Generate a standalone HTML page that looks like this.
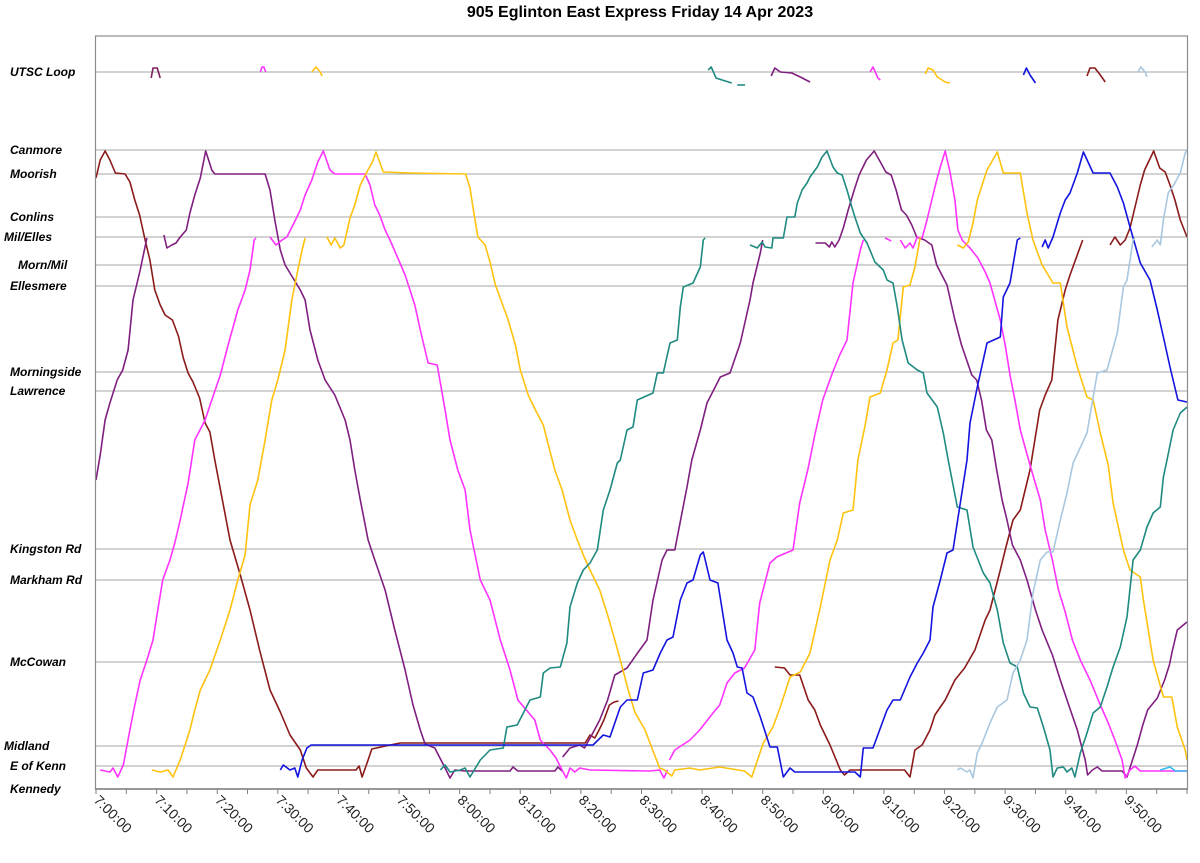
<!DOCTYPE html>
<html><head><meta charset="utf-8"><style>
html,body{margin:0;padding:0;background:#fff;}
svg{display:block;font-family:"Liberation Sans",Arial,sans-serif;}
</style></head><body>
<svg id="chart" width="1200" height="863" viewBox="0 0 1200 863" xmlns="http://www.w3.org/2000/svg">
<text x="640" y="17" text-anchor="middle" font-size="16" font-weight="bold">905 Eglinton East Express Friday 14 Apr 2023</text>
<g id="grid"></g>
<g id="ylabels" font-size="12" font-weight="bold" font-style="italic"></g>
<g id="series"></g>
<g id="frame"></g>
<g id="xaxis" font-size="14"></g>
</svg>
<script>
const stopNames = ["UTSC Loop","Canmore","Moorish","Conlins","Mil/Elles","Morn/Mil","Ellesmere","Morningside","Lawrence","Kingston Rd","Markham Rd","McCowan","Midland","E of Kenn","Kennedy"];
const stopPos = [717,639,615,572,552,524,503,417,398,240,209,127,43,23,0];
const stopIndent = [0,0,0,0,-6,8,0,0,0,0,0,0,-6,0,0];
const tickMinutes = [0,10,20,30,40,50,60,70,80,90,100,110,120,130,140,150,160,170];
const tickLabels = ["7:00:00","7:10:00","7:20:00","7:30:00","7:40:00","7:50:00","8:00:00","8:10:00","8:20:00","8:30:00","8:40:00","8:50:00","9:00:00","9:10:00","9:20:00","9:30:00","9:40:00","9:50:00"];

const maroon1 = [[0,611],[0.7,629],[1.5,638],[2.3,629],[3.2,616],[4.8,615],[5.6,607],[6.4,589],[7.2,574],[8.1,549],[8.9,529],[9.7,499],[10.6,484],[11.4,474],[12.6,469],[13.6,453],[14.4,431],[15.2,416],[16,407],[17.1,391],[18,366],[18.8,357],[19.6,329],[22.1,249],[23.8,214],[25.4,179],[27,139],[28.7,99],[30.4,77],[32,54],[33.7,39],[34.7,21],[35.8,12],[36.6,19],[40.3,19],[42.9,19],[43.4,23],[43.9,12],[44.9,29],[45.5,40],[48.5,44],[50.2,46],[80.7,46],[81.5,54],[82.3,51],[83,59],[83.8,69],[84.7,84],[85.5,87],[86.2,88]];
const maroon2 = [[112,122],[113.6,121],[114.5,114],[116.1,114],[117.5,89],[118.6,79],[119.5,64],[121.1,44],[122.8,19],[123.5,14],[124.4,19],[133.4,19],[134.3,12],[135.1,39],[136.3,44],[137.6,59],[138.4,74],[140.1,89],[141.7,109],[143.3,121],[145,139],[146.7,169],[147.5,179],[149.2,219],[150,239],[151.3,269],[152.5,279],[154.1,319],[155.7,379],[156.6,394],[157.7,409],[158.7,469],[159.9,499],[160.7,514],[162.8,549]];
const maroon3 = [[167.3,544],[168.1,552],[169,544],[169.8,549],[170.6,561],[171.5,584],[172.3,604],[173,619],[174.5,638],[175.5,621],[176.4,617],[177.2,604],[178,589],[178.9,569],[180,552]];
const maroonLoop = [[163.5,713],[164,721],[164.8,721],[165.7,714],[166.5,707]];
const purple1 = [[0,309],[0.7,334],[1.5,369],[2.3,386],[3.5,409],[4.4,419],[5.3,439],[6.1,489],[7.3,519],[8.4,551]];
const purple2 = [[11.2,554],[11.7,541],[12.5,544],[13.2,546],[13.9,552],[14.9,559],[15.5,576],[16.3,594],[17.2,611],[18.1,638],[19.1,619],[19.6,615],[27.9,615],[28.7,599],[29.5,569],[30.4,539],[31.2,524],[32.5,511],[33.7,499],[34.5,489],[35.3,459],[36.6,429],[37.8,409],[39.4,394],[41.1,369],[41.9,349],[42.7,319],[43.6,289],[44.9,249],[46,229],[47.7,199],[49.3,159],[51,119],[52.3,84],[53.5,59],[54.3,45],[55.9,41],[57.6,21],[58.4,11],[59.2,19],[60.9,18],[68.3,18],[68.8,22],[69.6,18],[75.7,18],[76.2,22],[76.9,18]];
const purple3 = [[77,32],[78.2,41],[79.8,44],[80.6,41],[81.8,54],[83.1,69],[84.4,89],[85.6,114],[87.6,121],[89.7,139],[90.9,149],[91.9,189],[93.4,229],[94.2,239],[95.5,239],[97.5,302],[98.3,329],[99.7,359],[100.8,386],[103,412],[104.6,416],[106.3,446],[107.9,489],[108.4,506],[109.6,536],[110,549]];
const purple4 = [[118.7,546],[120.3,546],[121,542],[121.4,547],[121.9,542],[122.6,549],[123.3,561],[124.1,579],[125.1,599],[125.9,614],[127.1,629],[128.4,638],[129.5,626],[130.3,617],[131.2,614],[132,599],[132.9,579],[133.7,574],[134.6,564],[135.4,552],[136.7,549],[137.9,544],[138.7,524],[140.4,504],[141.7,469],[142.8,444],[144.5,414],[145.3,409],[146.1,389],[146.9,359],[147.8,349],[148.6,319],[149.5,289],[150.3,269],[151.2,244],[152.5,229],[153.6,209],[155,179],[156.1,159],[157.8,134],[159.1,109],[160.2,89],[161.9,59],[163.2,29],[163.6,14],[164.4,19],[165.2,22],[166,18],[169.3,18],[170.1,12],[171,29],[171.8,44],[172.7,64],[173.5,79],[175.1,91],[176.3,109],[177.1,124],[177.6,139],[178.4,159],[180,167]];
const purpleLoop1 = [[9.1,711],[9.4,721],[10.1,721],[10.6,711]];
const purpleLoop2 = [[111.4,713],[112,721],[112.9,717],[114.8,716],[116.2,712],[117.8,707]];
const magenta1 = [[0.7,19],[2.3,17],[2.8,21],[3.6,12],[4.5,24],[5.6,59],[6.4,84],[7.3,109],[8.4,129],[9.4,149],[10.2,179],[11,209],[12.2,229],[13,246],[13.9,269],[15.2,306],[16.3,349],[18,369],[19.1,389],[20.5,414],[21.8,444],[23.4,479],[24.6,499],[25.4,519],[26.1,549],[26.4,551]];
const magenta2 = [[28.7,552],[29.7,544],[30.7,549],[31.5,552],[32.5,564],[33.7,579],[34.5,594],[35.6,609],[36.6,627],[37.5,638],[38.6,619],[39.4,615],[44.4,615],[45.2,604],[46,584],[46.8,574],[47.7,559],[48.5,549],[49.8,531],[51,514],[51.8,499],[52.6,484],[53.5,459],[54.8,426],[56.3,424],[57.6,379],[58.4,349],[59.7,319],[60.9,299],[61.7,259],[63.4,209],[65,189],[66.7,149],[68.3,119],[69.6,89],[72.4,69],[73.3,49],[74.9,39],[75.9,31],[76.9,19],[77.6,11],[78.2,21],[79,17],[79.8,21],[81.5,19],[91.4,18],[93,19],[93.7,11],[94.3,19]];
const magenta3 = [[94.6,29],[95.5,39],[98,49],[99.6,59],[101.8,76],[102.9,84],[104.1,106],[105.4,116],[107,121],[108.7,139],[109.5,186],[111.2,226],[112.3,232],[115,239],[116.1,286],[117.5,321],[118.6,354],[119.9,389],[121.5,416],[122.7,434],[123.9,449],[124.9,506],[126.1,539],[126.6,549]];
const magenta4 = [[130.2,551],[131.2,548]];
const magenta5 = [[132.7,549],[133.5,541],[134.3,546],[134.8,541],[135.5,552],[136.3,551],[137.1,569],[137.9,589],[138.7,609],[139.4,624],[140.1,638],[140.9,617],[141.7,589],[142.2,559],[142.9,549],[144.2,541],[145.5,531],[146.7,517],[147.5,506],[149.2,469],[150,444],[150.8,414],[151.6,389],[152.5,359],[154.1,324],[155.8,289],[156.6,259],[157.8,229],[158.8,199],[159.9,177],[161.1,149],[162.4,129],[164,109],[165.7,84],[166.8,69],[168.1,49],[169.3,29],[169.8,11],[170.6,19],[171.4,23],[172.3,18],[180,18]];
const magentaLoop1 = [[27.1,717],[27.4,722],[27.7,722],[28,717]];
const magentaLoop2 = [[127.7,717],[128.2,722],[129,711],[129.4,709]];
const gold1 = [[9.2,19],[10.6,17],[11.9,19],[12.7,12],[13.9,29],[14.7,44],[15.5,59],[16.3,79],[17.2,99],[18.8,119],[20.5,149],[22.1,179],[23.4,209],[24.6,234],[25.4,284],[26.7,309],[27.9,349],[29,389],[30,409],[31.2,439],[32.3,489],[33.3,519],[34,539],[34.5,551]];
const gold2 = [[38.1,552],[38.8,544],[39.4,551],[40.3,541],[40.9,544],[41.9,571],[42.7,584],[43.6,604],[44.7,617],[45.6,627],[46.2,637],[47.4,617],[51.8,616],[61,615],[61.7,601],[62.4,574],[63,552],[64.2,544],[65,527],[65.9,504],[68,469],[69.2,444],[70,419],[71.3,394],[72.5,379],[73.8,364],[75.7,319],[76.9,299],[78.2,269],[79.4,249],[80.4,234],[81.5,219],[83.1,199],[84.4,174],[85.6,149],[86.5,129],[87.8,99],[88.9,77],[90.6,59],[91.7,41],[93,21],[93.8,19],[95,13],[95.5,19],[98,21],[99.6,19],[102.9,22],[107,18],[108.2,12],[110.1,46],[111.7,62],[112.9,82],[114.5,112],[116.2,117],[117.8,136],[119.5,182],[121.1,229],[122.3,249],[123.3,276],[124.9,279],[125.7,329],[126.9,364],[127.7,392],[129.4,396],[130.5,419],[131.5,446],[132.3,449],[133.2,502],[134.3,504],[135.1,522],[136,552]];
const gold3 = [[142.1,544],[143.1,541],[143.9,547],[144.7,566],[145.4,589],[147,619],[148.7,637],[149.7,616],[152.5,616],[153.6,576],[154.6,549],[156.1,524],[157.9,506],[159.1,506],[160.2,462],[161.9,422],[163.5,392],[164.5,389],[165.7,356],[167,324],[167.8,286],[169.5,239],[170.6,219],[172.3,212],[172.8,189],[174.4,129],[176.1,92],[177.5,92],[178.4,62],[179.7,39],[180,29]];
const goldLoop1 = [[35.6,717],[36.3,722],[37,717],[37.3,713]];
const goldLoop2 = [[136.8,715],[137.3,721],[138.1,719],[138.8,712],[140.1,707],[140.9,706]];
const teal1 = [[56.8,19],[57.6,24],[58.4,17],[60.1,19],[60.9,21],[61.7,12],[63.4,29],[65,39],[67.2,41],[67.8,62],[69.5,64],[71.6,89],[73.3,92],[73.8,116],[74.9,121],[76.6,122],[77.7,146],[78.2,182],[79.4,206],[80.4,219],[81.5,226],[82.7,239],[83.7,279],[84.8,299],[86,326],[86.5,329],[87.6,359],[88.6,362],[89.3,389],[91.9,396],[92.6,416],[93.6,416],[94.7,446],[95.9,449],[96.4,482],[96.9,502],[98.5,506],[99.7,522],[100.2,549],[100.5,551]];
const teal2 = [[107.9,544],[109.1,541],[109.9,547],[110.4,542],[111.5,541],[111.7,551],[113.4,551],[114,572],[115.3,572],[115.7,586],[116.5,599],[117.3,606],[117.8,612],[119,622],[119.8,632],[120.6,638],[121.6,622],[122.3,616],[123.1,614],[123.9,599],[124.7,582],[125.2,572],[126.1,556],[127.2,546],[128.5,527],[129.9,519],[130.5,509],[131.5,506],[132.2,482],[133,449],[134,426],[135.5,419],[136.5,416],[137.1,396],[138.8,382],[139.8,356],[140.6,329],[142.1,282],[143.7,279],[144.7,242],[146.4,216],[147.5,206],[148.7,179],[149.7,146],[150.8,126],[152,122],[153,96],[154.1,82],[155.3,81],[156.3,62],[157.4,39],[157.9,12],[158.6,21],[159.6,22],[160.2,17],[161,21],[161.5,12],[162.4,36],[163.5,56],[164.5,76],[165.7,82],[166.8,102],[167.8,122],[169,142],[170.1,172],[171.1,229],[172.3,239],[173.4,262],[174.4,276],[175.6,282],[176.1,312],[176.7,329],[177.7,359],[178.9,376],[180,382]];
const tealLoop1 = [[101,719],[101.5,722],[102.3,711],[103.3,709],[104.9,706]];
const tealLoop2 = [[105.8,704],[107.1,704]];
const blue1 = [[30.4,19],[30.9,24],[32,19],[32.8,21],[33.3,12],[34,29],[34.8,41],[35.5,44],[82,44],[83.7,54],[84.8,52],[86.5,82],[87.6,89],[89.3,89],[90.3,116],[91.9,119],[93.1,136],[94.2,149],[95.2,152],[96.4,189],[97.5,206],[98.5,209],[99.7,234],[100.2,237],[101.3,209],[102.6,206],[104.1,149],[105.1,136],[105.8,122],[106.6,121],[107.4,96],[108.4,92],[109.6,72],[111.2,42],[112.4,42],[113.4,12],[114.5,21],[115.3,17],[125.2,17],[126.1,12],[126.6,41],[128.2,41],[130.5,79],[131.5,89],[132.7,89],[134.3,112],[135.5,126],[136.5,136],[137.6,149],[138.1,182],[139.3,209],[140.4,236],[141.4,239],[142.6,286],[143.7,329],[144.2,366],[145.4,402],[147,446],[149.2,452],[149.7,492],[150.8,506],[152,549],[152.5,551]];
const blue2 = [[156.1,542],[156.6,549],[157.1,541],[157.9,552],[159.1,576],[159.9,589],[160.7,596],[161.9,616],[162.9,637],[164.5,616],[167.3,616],[168.5,602],[169.5,586],[170.6,562],[172.3,526],[173.9,509],[175.1,479],[176.1,452],[177.2,422],[178.5,389],[180,387]];
const blueLoop = [[153,714],[153.5,721],[154.1,714],[155,706]];
const light1 = [[142.1,19],[142.6,21],[143.7,17],[144.2,19],[144.7,11],[145.4,36],[146.2,46],[147.5,66],[148.7,82],[150.3,89],[151.3,116],[152.5,129],[153.6,149],[154.6,196],[155.8,229],[156.9,237],[157.9,237],[159.1,269],[160.2,296],[161.2,326],[163.5,356],[165.2,416],[166.8,419],[168.5,456],[169.5,502],[170.1,509],[171.1,549],[171.4,551]];
const light2 = [[174.2,542],[175.1,549],[175.6,544],[176.1,569],[176.9,596],[178,606],[178.9,616],[179.7,636],[180,639]];
const lightLoop = [[171.9,717],[172.4,722],[173.1,717],[173.4,712]];
const cyan1 = [[175.6,19],[177.2,22],[178.1,18],[180,18]];

const trips = [
 ["maroon-trip-1",maroon1,"#8b1a1a"],["maroon-trip-2",maroon2,"#8b1a1a"],["maroon-trip-3",maroon3,"#8b1a1a"],["maroon-utsc-loop",maroonLoop,"#8b1a1a"],
 ["purple-trip-1",purple1,"#7f1f7f"],["purple-trip-2",purple2,"#7f1f7f"],["purple-trip-3",purple3,"#7f1f7f"],["purple-trip-4",purple4,"#7f1f7f"],["purple-utsc-loop-1",purpleLoop1,"#7f1f5f"],["purple-utsc-loop-2",purpleLoop2,"#7f1f7f"],
 ["magenta-trip-1",magenta1,"#ff33ff"],["magenta-trip-2",magenta2,"#ff33ff"],["magenta-trip-3",magenta3,"#ff33ff"],["magenta-trip-4",magenta4,"#ff33ff"],["magenta-trip-5",magenta5,"#ff33ff"],["magenta-utsc-loop-1",magentaLoop1,"#ff33ff"],["magenta-utsc-loop-2",magentaLoop2,"#ff33ff"],
 ["gold-trip-1",gold1,"#ffc20e"],["gold-trip-2",gold2,"#ffc20e"],["gold-trip-3",gold3,"#ffc20e"],["gold-utsc-loop-1",goldLoop1,"#ffc20e"],["gold-utsc-loop-2",goldLoop2,"#ffc20e"],
 ["teal-trip-1",teal1,"#1f8a80"],["teal-trip-2",teal2,"#1f8a80"],["teal-utsc-loop-1",tealLoop1,"#1f8a80"],["teal-utsc-loop-2",tealLoop2,"#1f8a80"],
 ["blue-trip-1",blue1,"#1414e0"],["blue-trip-2",blue2,"#1414e0"],["blue-utsc-loop",blueLoop,"#1414e0"],
 ["lightblue-trip-1",light1,"#a9c7df"],["lightblue-trip-2",light2,"#a9c7df"],["lightblue-utsc-loop",lightLoop,"#a9c7df"],["cyan-trip-1",cyan1,"#33bbee"]
];

const X0=96, X1=1187, TMAX=180, YBASE=789;
function xs(t){return X0 + t*(X1-X0)/TMAX;}
function ys(p){return YBASE - p;}
const NS="http://www.w3.org/2000/svg";
function mk(tag,attrs,parent){const e=document.createElementNS(NS,tag);for(const k in attrs)e.setAttribute(k,attrs[k]);parent.appendChild(e);return e;}

const grid=document.getElementById('grid'), yl=document.getElementById('ylabels');
stopPos.forEach((p,i)=>{
  if(p>0){
    const l=mk('line',{x1:X0,x2:X1,y1:ys(p),y2:ys(p),stroke:'#a6a6a6','stroke-width':1},grid);
    
    
  }
  const t=mk('text',{x:10+stopIndent[i],y:ys(p)+4},yl);
  t.textContent=stopNames[i];
  
  
});

const sg=document.getElementById('series');
trips.forEach(tr=>{
  const d=tr[1].map((pt,i)=>(i?'L':'M')+xs(pt[0]).toFixed(1)+','+ys(pt[1]).toFixed(1)).join('');
  const path=mk('path',{d:d,fill:'none',stroke:tr[2],'stroke-width':1.6,'stroke-linejoin':'round'},sg);
  
  
});

const fr=document.getElementById('frame');
const box=mk('rect',{x:X0-0.5,y:36,width:X1-X0+1,height:YBASE-36,fill:'none',stroke:'#8c8c8c','stroke-width':1.2},fr);



const xa=document.getElementById('xaxis');
const axl=mk('line',{x1:X0-1,x2:X1+1,y1:YBASE,y2:YBASE,stroke:'#7f7f7f','stroke-width':1.5},xa);


for(let m=0;m<=180;m+=5){
  const tk=mk('line',{x1:xs(m),x2:xs(m),y1:YBASE,y2:YBASE+5,stroke:'#7f7f7f','stroke-width':1},xa);
  
  
}
tickMinutes.forEach((m,i)=>{
  const x=xs(m)-3, y=YBASE+12;
  const t=mk('text',{x:x,y:y,transform:'rotate(45 '+x+' '+y+')',fill:'#222'},xa);
  t.textContent=tickLabels[i];
  
  
});
</script>
</body></html>
